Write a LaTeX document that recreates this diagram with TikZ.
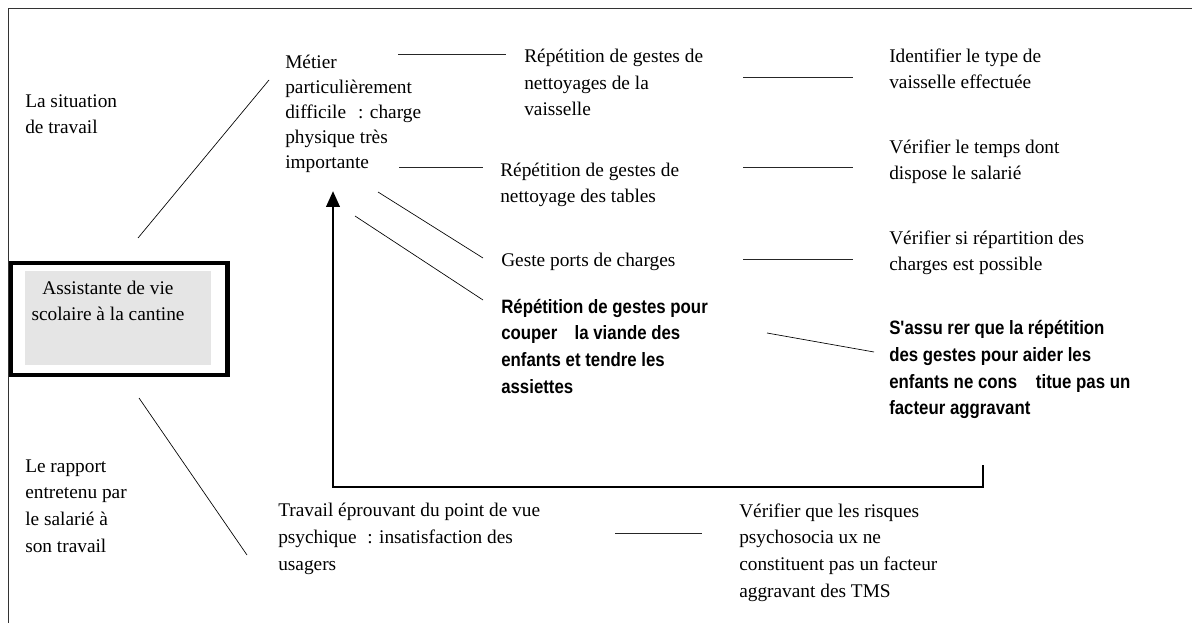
\documentclass[tikz,border=0pt]{standalone}
\usepackage{fontspec}
\setmainfont{Liberation Serif}
\newfontfamily\bsans[FakeStretch=0.87]{Liberation Sans}
\usetikzlibrary{arrows.meta}
\begin{document}
\begin{tikzpicture}[x=0.75pt,y=-0.75pt,
  txt/.style={anchor=base west, inner sep=0pt, align=left, font=\fontsize{14.5}{20}\selectfont},
  btxt/.style={txt, font=\bsans\bfseries\fontsize{14.5}{20}\selectfont},
  link/.style={line width=0.75pt, draw=black!85},
  diag/.style={line width=0.5pt, draw=black},
  framel/.style={line width=0.75pt, draw=black!80},
  feed/.style={line width=2.2pt, -{Triangle[length=12pt,width=10pt]}}]
\useasboundingbox (0,0) rectangle (1192,623);
% page frame
\draw[framel] (1192,9) -- (8,9) -- (8,623);
% central box
\fill[black!10] (25,271) rectangle (211,365);
\draw[line width=3pt] (11,263) rectangle (227,375);
\fill (225,261) rectangle (230,377);
% (base anchor of a multi-line node = baseline of its last line)
\node[txt, anchor=base, align=center] (asv) at (108,321) {Assistante de vie\\scolaire à la cantine};
% left labels
\node[txt] (sit) at (25,134) {La situation\\de travail};
\node[txt] (rap) at (25,552) {Le rapport\\entretenu par\\le salarié à\\son travail};
% left column
\node[txt, font=\fontsize{14.5}{18.8}\selectfont] (met) at (285,168.5) {Métier\\particulièrement\\difficile\hspace{9pt}: charge\\physique très\\importante};
\node[txt] (trav) at (278,570) {Travail éprouvant du point de vue\\psychique\hspace{8pt}: insatisfaction des\\usagers};
% middle column
\node[txt] (rvai) at (524,116) {Répétition de gestes de\\nettoyages de la\\vaisselle};
\node[txt] (rtab) at (500,203) {Répétition de gestes de\\nettoyage des tables};
\node[txt] (gpc) at (501,267) {Geste ports de charges};
\node[btxt] (rcoup) at (501,393) {Répétition de gestes pour\\couper\hspace{13pt}la viande des\\enfants et tendre les\\assiettes};
% right column
\node[txt] (ident) at (889,89) {Identifier le type de\\vaisselle effectuée};
\node[txt] (vtemps) at (889,180) {Vérifier le temps dont\\dispose le salarié};
\node[txt] (vrep) at (889,271) {Vérifier si répartition des\\charges est possible};
\node[btxt] (sass) at (889,415) {S'assu rer que la répétition\\des gestes pour aider les\\enfants ne cons\hspace{14pt}titue pas un\\facteur aggravant};
\node[txt] (vrisq) at (739,597) {Vérifier que les risques\\psychosocia ux ne\\constituent pas un facteur\\aggravant des TMS};
% connector end points
\coordinate (d1a) at (138,238); \coordinate (d1b) at (269,80);
\coordinate (d2a) at (139,398); \coordinate (d2b) at (247,555);
\coordinate (h1a) at (398,55);  \coordinate (h1b) at (506,55);
\coordinate (h2a) at (399,168); \coordinate (h2b) at (483,168);
\coordinate (g1a) at (378,192); \coordinate (g1b) at (483,258);
\coordinate (g2a) at (355,216); \coordinate (g2b) at (483,300);
\coordinate (r1a) at (743,78);  \coordinate (r1b) at (853,78);
\coordinate (r2a) at (743,168); \coordinate (r2b) at (853,168);
\coordinate (r3a) at (743,260); \coordinate (r3b) at (853,260);
\coordinate (r4a) at (767,333); \coordinate (r4b) at (874,352);
\coordinate (b1a) at (615,533); \coordinate (b1b) at (702,533);
\coordinate (fS) at (983,465); \coordinate (fC1) at (983,487);
\coordinate (fC2) at (333,487); \coordinate (fT) at (333,191);
% connectors
\draw[diag] (d1a) -- (d1b);
\draw[diag] (d2a) -- (d2b);
\draw[link] (h1a) -- (h1b);
\draw[link] (h2a) -- (h2b);
\draw[diag] (g1a) -- (g1b);
\draw[diag] (g2a) -- (g2b);
\draw[link] (r1a) -- (r1b);
\draw[link] (r2a) -- (r2b);
\draw[link] (r3a) -- (r3b);
\draw[diag] (r4a) -- (r4b);
\draw[link] (b1a) -- (b1b);
% feedback arrow
\draw[feed] (fS) -- (fC1) -- (fC2) -- (fT);
\end{tikzpicture}
\end{document}
